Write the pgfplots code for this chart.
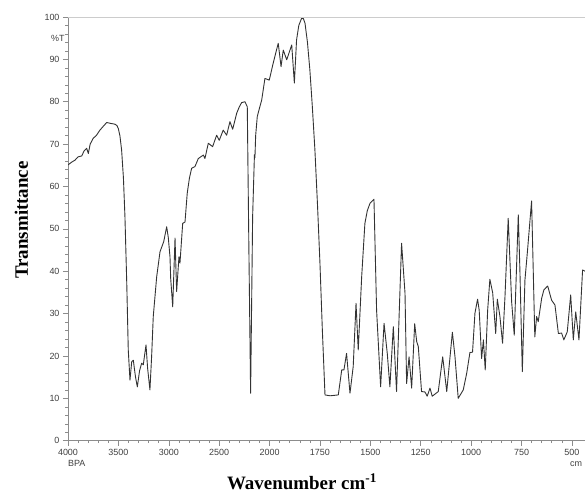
\documentclass[border=0pt]{standalone}
\usepackage{fontspec}
\setmainfont{Liberation Serif}
\setsansfont{Liberation Sans}
\usepackage{pgfplots}
\usepackage{pgfplotstable}
\pgfplotsset{compat=1.18}

% IR spectrum, wavenumber (cm^-1) vs %T
\pgfplotstableread{
wn T
4000 65.1
3960 65.8
3931 66.2
3900 67.0
3864 67.2
3840 68.4
3815 69.0
3798 67.8
3780 70.0
3749 71.4
3720 72.0
3683 73.3
3650 74.2
3616 75.1
3580 74.9
3534 74.7
3515 74.4
3501 73.7
3485 72.0
3468 68.6
3450 62.0
3435 52.9
3417 37.2
3402 21.4
3385 14.3
3368 18.6
3352 19.0
3330 15.0
3312 12.7
3290 16.5
3269 18.3
3253 17.9
3226 22.6
3210 17.1
3187 12.0
3170 20.0
3154 29.3
3120 38.7
3087 44.6
3050 47.0
3021 50.5
3005 48.0
2988 43.4
2981 38.3
2961 31.6
2938 47.8
2922 35.2
2899 43.4
2889 41.9
2862 51.3
2839 51.6
2817 58.4
2795 62.0
2773 64.3
2740 64.7
2707 66.6
2657 67.4
2641 66.6
2608 70.2
2565 69.4
2525 72.1
2499 70.9
2460 73.3
2426 72.1
2393 75.3
2366 73.5
2326 77.3
2300 78.8
2277 79.8
2244 80.0
2221 78.8
2205 45.0
2188 11.2
2168 52.9
2150 67.5
2145 66.8
2138 72.0
2122 76.5
2100 78.5
2078 80.4
2046 85.5
2003 85.1
1982 89.1
1957 93.8
1943 88.3
1932 92.2
1915 89.9
1890 93.4
1877 84.4
1866 94.6
1855 98.0
1841 99.7
1832 99.6
1824 98.5
1812 94.0
1800 87.5
1788 79.0
1775 68.6
1762 55.5
1750 41.9
1738 26.0
1725 10.8
1700 10.6
1659 10.8
1642 16.7
1631 16.7
1618 20.6
1601 11.2
1585 17.5
1571 32.4
1560 21.4
1543 38.7
1527 51.3
1515 54.3
1502 56.0
1482 57.0
1469 30.8
1449 12.7
1432 27.7
1416 20.6
1403 12.7
1386 26.9
1370 11.6
1345 46.6
1328 34.8
1320 13.5
1308 19.8
1295 12.4
1280 27.6
1270 23.4
1262 22.2
1246 11.6
1229 11.5
1218 10.5
1204 12.4
1193 10.5
1163 11.6
1141 19.8
1121 11.6
1093 25.6
1080 19.8
1064 10.0
1039 12.0
1022 15.9
1006 20.8
993 20.9
981 30.1
968 33.4
960 30.8
948 19.4
939 23.8
930 16.7
918 30.8
907 38.1
893 34.9
878 25.3
870 33.4
857 29.3
844 23.0
832 34.0
816 52.5
799 32.8
786 24.9
766 53.3
758 40.3
746 16.3
733 37.9
720 45.0
700 56.6
684 24.5
675 29.3
667 28.1
650 33.6
639 35.6
625 36.3
620 36.5
601 33.2
584 32.0
567 25.3
551 25.4
540 23.8
523 25.7
506 34.4
493 23.8
481 30.4
465 23.8
447 40.3
435 40.0
}\spectrum

\begin{document}
\begin{tikzpicture}
\begin{axis}[
  scale only axis,
  width=517bp, height=423.7bp,
  at={(0,0)}, anchor=south west,
  xmin=0, xmax=2565,
  ymin=0, ymax=100,
  axis x line*=bottom,
  axis y line*=left,
  axis line style={black!45, line width=0.6bp},
  tick align=outside,
  major tick length=5bp,
  minor tick length=2.5bp,
  tick style={black!45, line width=0.5bp},
  % scale halves below 2000 cm^-1
  xtick={0,250,500,750,1000,1250,1500,1750,2000,2250,2500},
  xticklabels={4000,3500,3000,2500,2000,1750,1500,1250,1000,750,500},
  minor x tick num=4,
  ytick={0,10,...,100},
  minor y tick num=4,
  extra y ticks={95},
  extra y tick labels={\%T},
  extra y tick style={major tick length=0pt, grid=none},
  /pgf/number format/assume math mode=true,
  tick label style={font=\sffamily\fontsize{9}{10}\selectfont, text=black!75},
]
\addplot[black!80, line width=0.9bp, line join=round]
  table[x expr={\thisrow{wn}>2000 ? (4000-\thisrow{wn})/2 : 3000-\thisrow{wn}}, y=T] {\spectrum};
\end{axis}
\draw[black!20, line width=0.6bp] (0,423.7bp) -- (517bp,423.7bp);
\node[anchor=west, font=\sffamily\fontsize{9}{10}\selectfont, text=black!75, inner sep=0pt]
  at (0,-22.6bp) {BPA};
\node[anchor=west, font=\sffamily\fontsize{9}{10}\selectfont, text=black!75, inner sep=0pt]
  at (502bp,-23.3bp) {cm};
\node[rotate=90, anchor=base, inner sep=0pt, font=\bfseries\fontsize{19}{22}\selectfont]
  at (-40bp,220.7bp) {Transmittance};
\node[anchor=base, inner sep=0pt, font=\bfseries\fontsize{19}{22}\selectfont]
  at (234bp,-48.5bp) {Wavenumber cm\textsuperscript{-1}};
\pgfresetboundingbox
\useasboundingbox (-68bp,-52.3bp) rectangle (517bp,440.7bp);
\end{tikzpicture}
\end{document}
